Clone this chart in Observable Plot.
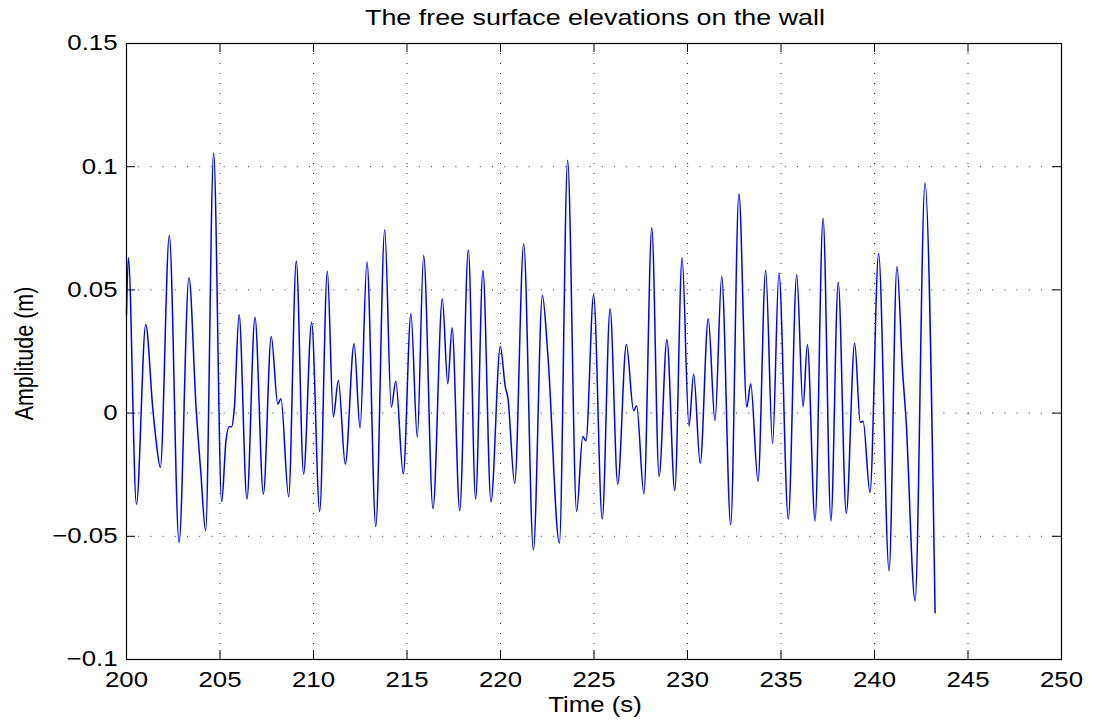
<!DOCTYPE html>
<html>
<head>
<meta charset="utf-8">
<script src="https://cdn.jsdelivr.net/npm/d3@7"></script>
<script src="https://cdn.jsdelivr.net/npm/@observablehq/plot@0.6"></script>
<style>
  html, body { margin: 0; padding: 0; background: #fff; }
  #title { height: 34px; position: relative; font-family: "Liberation Sans", Arial, Helvetica, sans-serif; font-size: 22.4px; color: #000; }
  #title span { position: absolute; left: 595px; top: 0; line-height: 36px; white-space: nowrap; transform: translateX(-50%) scaleX(1.2); }
</style>
</head>
<body>
<div id="title"><span>The free surface elevations on the wall</span></div>
<div id="chart"></div>
<script>
// ---- data (time in s, amplitude in m) ----
const times = [
  200.00, 200.10, 200.53, 201.03, 201.40, 201.58, 201.81, 202.29, 202.81, 203.34,
  203.72, 203.98, 204.23, 204.66, 205.09, 205.32, 205.50, 205.62, 205.77, 206.02,
  206.44, 206.87, 207.32, 207.74, 208.09, 208.26, 208.67, 209.08, 209.47, 209.90,
  210.33, 210.74, 211.06, 211.33, 211.70, 212.17, 212.49, 212.86, 213.33, 213.81,
  214.16, 214.40, 214.80, 215.21, 215.55, 215.89, 216.39, 216.89, 217.18, 217.41,
  217.82, 218.28, 218.67, 219.06, 219.49, 219.99, 220.26, 220.39, 220.76, 221.24,
  221.76, 222.24, 222.53, 223.15, 223.59, 224.07, 224.40, 224.57, 224.98, 225.44,
  225.86, 226.27, 226.73, 227.12, 227.28, 227.67, 228.09, 228.48, 228.90, 229.32,
  229.71, 230.08, 230.33, 230.68, 231.11, 231.47, 231.83, 232.31, 232.75, 233.17,
  233.38, 233.77, 234.18, 234.55, 234.89, 235.39, 235.84, 236.18, 236.41, 236.82,
  237.25, 237.67, 238.06, 238.49, 238.94, 239.24, 239.39, 239.76, 240.22, 240.78,
  241.20, 241.51, 241.68, 242.17, 242.70, 243.24
];
const amplitudes = [
  0.0400, 0.0630, -0.0370, 0.0360, 0.0024, -0.0110, -0.0220, 0.0721, -0.0525, 0.0549,
  0.0024, -0.0247, -0.0477, 0.1057, -0.0360, -0.0112, -0.0054, -0.0056, 0.0024, 0.0400,
  -0.0349, 0.0389, -0.0328, 0.0311, 0.0037, 0.0058, -0.0339, 0.0617, -0.0247, 0.0369,
  -0.0399, 0.0576, -0.0014, 0.0132, -0.0207, 0.0281, -0.0060, 0.0613, -0.0460, 0.0744,
  0.0024, 0.0129, -0.0247, 0.0403, -0.0098, 0.0640, -0.0387, 0.0464, 0.0119, 0.0346,
  -0.0396, 0.0663, -0.0349, 0.0579, -0.0360, 0.0270, 0.0105, 0.0065, -0.0285, 0.0687,
  -0.0556, 0.0477, 0.0240, -0.0527, 0.1026, -0.0399, -0.0095, -0.0112, 0.0480, -0.0430,
  0.0423, -0.0288, 0.0278, 0.0010, 0.0030, -0.0328, 0.0752, -0.0257, 0.0299, -0.0315,
  0.0630, -0.0053, 0.0159, -0.0204, 0.0383, -0.0030, 0.0554, -0.0453, 0.0890, 0.0024,
  0.0119, -0.0277, 0.0579, -0.0123, 0.0569, -0.0430, 0.0561, 0.0026, 0.0278, -0.0437,
  0.0791, -0.0437, 0.0531, -0.0407, 0.0284, -0.0037, -0.0033, -0.0322, 0.0647, -0.0640,
  0.0595, 0.0159, -0.0017, -0.0762, 0.0933, -0.0810
];
const xTicks = [200, 205, 210, 215, 220, 225, 230, 235, 240, 245, 250];
const xTickLabels = ["200", "205", "210", "215", "220", "225", "230", "235", "240", "245", "250"];
const yTicks = [-0.1, -0.05, 0, 0.05, 0.1, 0.15];
const yTickLabels = ["\u22120.1", "\u22120.05", "0", "0.05", "0.1", "0.15"];
const xLabel = "Time (s)";
const yLabel = "Amplitude (m)";

// ---- layout ----
const W = 1094, H = 687;
const mT = 9, mB = 62, mL = 126, mR = 33;
const plotW = W - mL - mR, plotH = H - mT - mB;
const tickLen = 9;
const xGrid = xTicks.slice(1, -1);
const yGrid = yTicks.slice(1, -1);

const chart = Plot.plot({
  width: W,
  height: H,
  marginTop: mT,
  marginBottom: mB,
  marginLeft: mL,
  marginRight: mR,
  style: {
    fontFamily: "'Liberation Sans', Arial, Helvetica, sans-serif",
    fontSize: "21.5px",
    color: "#000",
    background: "#fff",
    overflow: "visible"
  },
  x: {
    domain: [xTicks[0], xTicks[xTicks.length - 1]],
    ticks: xTicks,
    tickFormat: d => xTickLabels[xTicks.indexOf(d)],
    tickSize: 0,
    tickPadding: 12,
    label: null
  },
  y: {
    domain: [yTicks[0], yTicks[yTicks.length - 1]],
    ticks: yTicks,
    tickFormat: d => yTickLabels[yTicks.indexOf(d)],
    tickSize: 0,
    tickPadding: 9,
    label: null
  },
  marks: [
    // dotted grid
    Plot.ruleX(xGrid, {stroke: "#333", strokeWidth: 1, strokeDasharray: "1,9"}),
    Plot.ruleY(yGrid, {stroke: "#333", strokeWidth: 1, strokeDasharray: "1,11.2"}),
    // inward tick marks on all four sides
    Plot.ruleX(xTicks, {stroke: "#000", insetTop: plotH - tickLen}),
    Plot.ruleX(xTicks, {stroke: "#000", insetBottom: plotH - tickLen}),
    Plot.ruleY(yTicks, {stroke: "#000", insetRight: plotW - tickLen}),
    Plot.ruleY(yTicks, {stroke: "#000", insetLeft: plotW - tickLen}),
    // the series
    Plot.line(amplitudes, {x: times, y: amplitudes, stroke: "#0000ff", strokeWidth: 1.5, curve: "monotone-x"}),
    Plot.frame({stroke: "#000", strokeWidth: 1.2}),
    // axis titles
    Plot.text([xLabel], {frameAnchor: "bottom", textAnchor: "middle", lineAnchor: "bottom", dx: 1, dy: 52, fill: "#000"}),
    Plot.text([yLabel], {frameAnchor: "left", textAnchor: "middle", lineAnchor: "bottom", rotate: -90, dx: -94, dy: 2, fill: "#000"})
  ]
});

document.getElementById("chart").appendChild(chart);

// widen all text horizontally (the reference is rendered with a 1.2 horizontal stretch)
d3.select(chart).selectAll("text").each(function () {
  const t = this.getAttribute("transform") || "";
  if (t.includes("rotate(")) {
    this.setAttribute("transform", t.replace("rotate(", "scale(1.2,1) rotate("));
  } else {
    this.setAttribute("transform", (t + " scale(1.2,1)").trim());
  }
});
</script>
</body>
</html>
